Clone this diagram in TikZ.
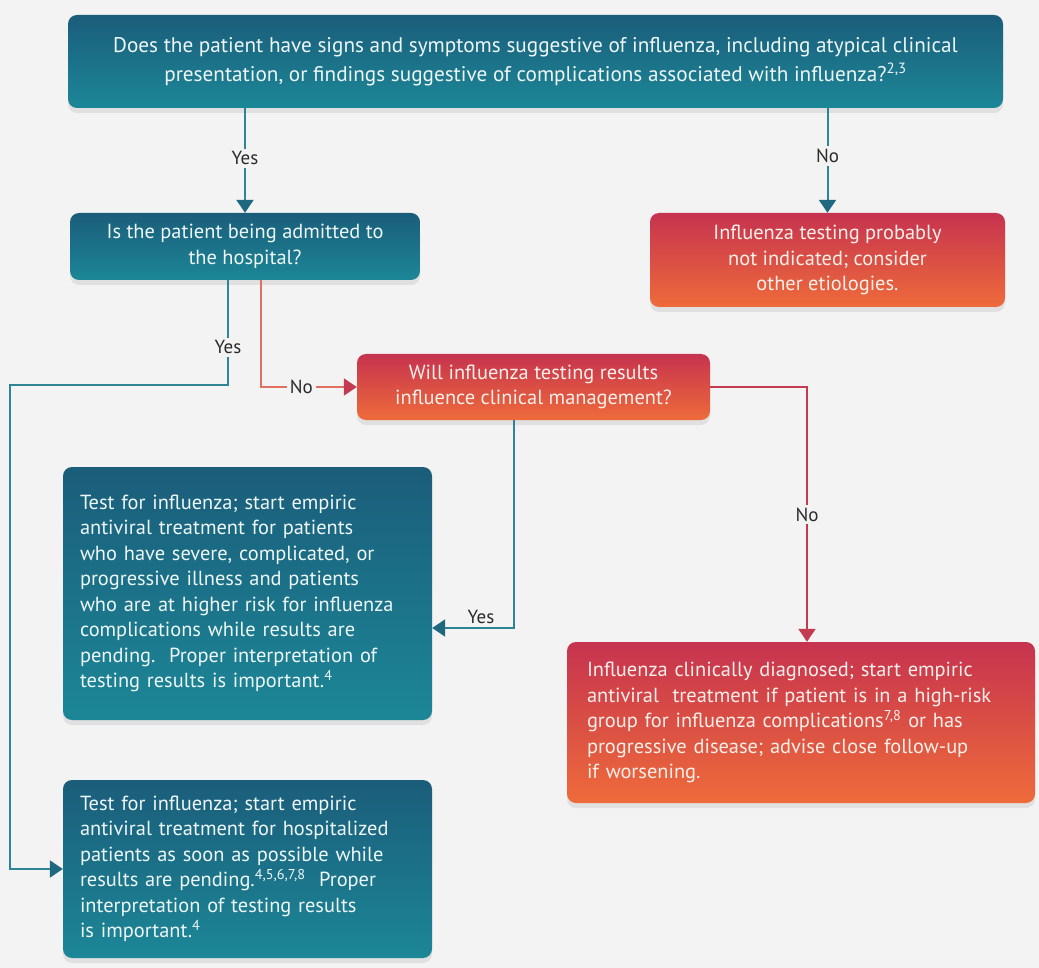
\documentclass[tikz,border=0pt]{standalone}
\usepackage{fontspec}
\setmainfont{PT Sans}
\usetikzlibrary{arrows.meta,calc,shadows}
\definecolor{bg}{HTML}{F3F3F3}
\definecolor{tealtop}{HTML}{1B5D7A}
\definecolor{tealbot}{HTML}{1C8797}
\definecolor{redtop}{HTML}{C6334F}
\definecolor{redbot}{HTML}{EE6B3A}
\definecolor{tealline}{HTML}{2F8494}
\definecolor{tealarrow}{HTML}{1E6880}
\definecolor{orline}{HTML}{E27060}
\definecolor{redline}{HTML}{C43A50}
\definecolor{lblcol}{HTML}{2B2B2B}
\definecolor{tealtext}{HTML}{EEF7F8}
\definecolor{redtext}{HTML}{FDEFEA}
\tikzset{
  box/.style={rounded corners=9pt, inner sep=0pt,
    drop shadow={opacity=0.16, shadow xshift=0pt, shadow yshift=-5pt}},
  tealbox/.style={box, top color=tealtop, bottom color=tealbot, text=tealtext},
  redbox/.style={box, top color=redtop, bottom color=redbot, text=redtext},
  bodytext/.style={font=\fontsize{20.4}{25.5}\selectfont},
  lbl/.style={fill=bg, text=lblcol, font=\fontsize{19}{22}\selectfont, inner sep=3pt},
  lblplain/.style={text=lblcol, font=\fontsize{19}{22}\selectfont, inner sep=2pt},
  tealarr/.style={draw=tealline, line width=2pt, -{Triangle[width=17pt,length=13pt,color=tealarrow]}},
  redarr/.style={draw=redline, line width=2pt, -{Triangle[width=17pt,length=13pt,color=redline]}},
  orarr/.style={draw=orline, line width=2pt, -{Triangle[width=17pt,length=13pt,color=redline]}},
}
\begin{document}
\begin{tikzpicture}[x=1pt,y=-1pt]
\useasboundingbox (0,0) rectangle (1039,968);
\fill[bg] (0,0) rectangle (1039,968);

\node[tealbox, minimum width=935pt, minimum height=93pt, align=center,
  font=\fontsize{21.2}{29}\selectfont] (top) at (535.5,61.5)
  {Does the patient have signs and symptoms suggestive of influenza, including atypical clinical\\
   presentation, or findings suggestive of complications associated with influenza?\textsuperscript{2,3}};

\node[tealbox, bodytext, minimum width=350pt, minimum height=67pt, align=center] (b2) at (245,246.5)
  {Is the patient being admitted to\\ the hospital?};

\node[redbox, bodytext, minimum width=355pt, minimum height=94pt, align=center] (b3) at (827.5,260)
  {Influenza testing probably\\ not indicated; consider\\ other etiologies.};

\node[redbox, bodytext, minimum width=353pt, minimum height=66pt, align=center] (b4) at (533.5,387)
  {Will influenza testing results\\ influence clinical management?};

\node[tealbox, bodytext, minimum height=253pt, text width=335pt, inner xsep=17pt, align=left] (b6) at (247.5,593.5)
  {Test for influenza; start empiric\\
   antiviral treatment for patients\\
   who have severe, complicated, or\\
   progressive illness and patients\\
   who are at higher risk for influenza\\
   complications while results are\\
   pending.\ \ Proper interpretation of\\
   testing results is important.\textsuperscript{4}};

\node[redbox, bodytext, minimum height=161pt, text width=428pt, inner xsep=20pt, align=left] (b7) at (801,722.5)
  {Influenza clinically diagnosed; start empiric\\
   antiviral\ \ treatment if patient is in a high-risk\\
   group for influenza complications\textsuperscript{7,8} or has\\
   progressive disease; advise close follow-up\\
   if worsening.};

\node[tealbox, bodytext, minimum height=178pt, text width=335pt, inner xsep=17pt, align=left] (b8) at (247.5,869)
  {Test for influenza; start empiric\\
   antiviral treatment for hospitalized\\
   patients as soon as possible while\\
   results are pending.\textsuperscript{4,5,6,7,8}\ \ Proper\\
   interpretation of testing results\\
   is important.\textsuperscript{4}};

% connectors
\draw[tealarr] (top.south -| b2.north) -- node[lbl, pos=0.48]{Yes} (b2.north);
\draw[tealarr] (top.south -| b3.north) -- node[lbl, pos=0.46]{No} (b3.north);

\coordinate (lx) at (10,385);
\coordinate (s2a) at ($(b2.south)+(-17,0)$);
\draw[tealarr] (s2a) -- node[lbl, pos=0.64]{Yes} (s2a |- lx) -- (lx) |- (b8.west);

\coordinate (s2b) at ($(b2.south)+(16,0)$);
\draw[orarr] (s2b) |- node[lbl, pos=0.71]{No} (b4.west);

\coordinate (s4a) at ($(b4.south)+(-20,0)$);
\draw[tealarr] (s4a) |- node[lblplain, pos=0.7, above=1pt]{Yes} ($(b6.east)+(0,34.5)$);

\draw[redarr] (b4.east) -| node[lbl, pos=0.75]{No} ($(b7.north)+(6,0)$);
\end{tikzpicture}
\end{document}
